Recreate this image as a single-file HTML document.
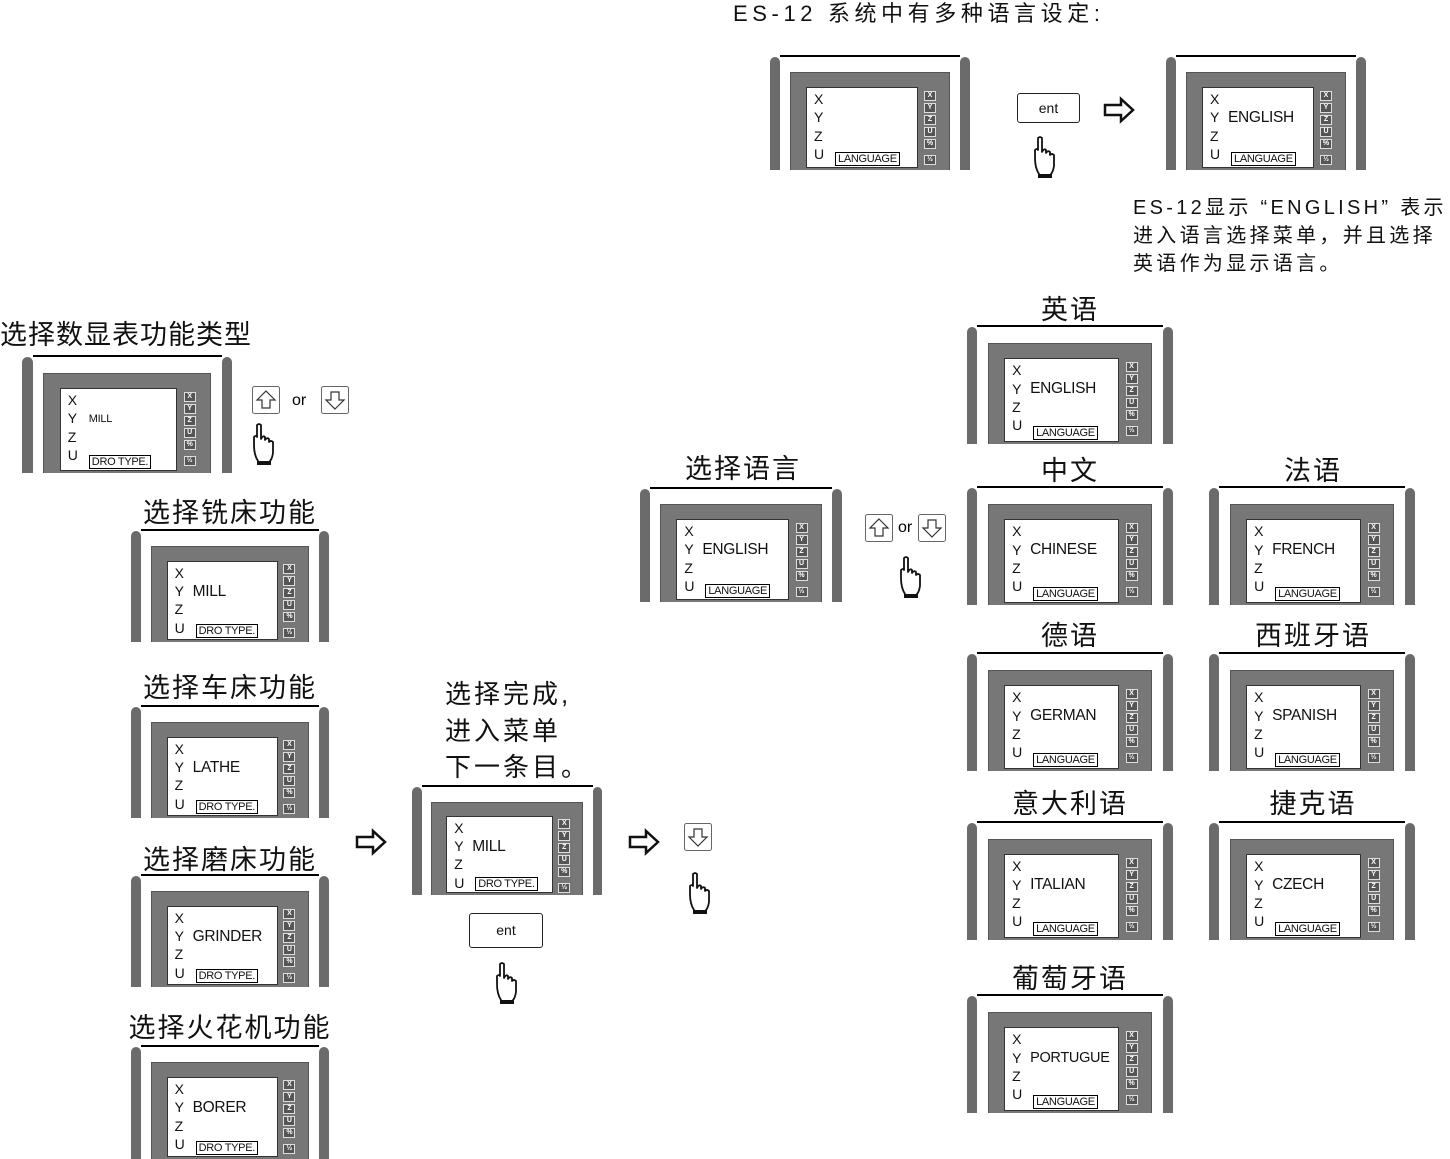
<!DOCTYPE html>
<html><head><meta charset="utf-8">
<style>
body{margin:0;width:1450px;height:1159px;background:#fff;position:relative;overflow:hidden;font-family:"Liberation Sans","Noto Sans CJK SC",sans-serif;color:#111}
.a{position:absolute}
.d{position:absolute}
.d .tl{position:absolute;left:5%;right:5%;top:0;height:2px;background:#000}
.d .bl,.d .br{position:absolute;top:2px;bottom:0;width:5%;background:#6b6b6b;border-radius:6px 6px 0 0}
.d .bl{left:0}.d .br{right:0}
.d .pn{position:absolute;left:10%;right:10%;top:15%;bottom:0;background:#777;border:1px solid #555;border-bottom:none}
.d .sc{position:absolute;left:18%;width:55%;top:28%;bottom:2px;background:#fff;border:1px solid #333;overflow:hidden}
.d .k{position:absolute;left:77%;width:12px;top:31%;bottom:2px}
.d .k div{height:8px;margin-bottom:2px;border:1px solid #ddd;background:#555;color:#fff;font-size:7px;line-height:8px;text-align:center;font-weight:bold}
.d .k div.g{margin-top:6px}
.ax{position:absolute;left:7px;top:2px;font-size:14px;line-height:18.3px}
.w{position:absolute;left:25px;top:20px;font-size:15.5px;line-height:20px;letter-spacing:-0.3px;white-space:nowrap}
.lb{position:absolute;bottom:1px;left:28px;border:1px solid #000;font-size:11px;padding:0 2px;line-height:12px;background:#fff;letter-spacing:-0.3px}
.h{position:absolute;font-size:27px;transform:translateX(-50%);white-space:nowrap;letter-spacing:2px;line-height:30px}
.btn{position:absolute;border:1.5px solid #222;border-radius:3px;font-size:14px;text-align:center}
</style></head><body>

<div class="a" style="left:733px;top:0px;font-size:22px;letter-spacing:4.6px;line-height:28px;white-space:nowrap">ES-12 系统中有多种语言设定:</div>

<div class="d" style="left:770px;top:55px;width:200px;height:115px"><div class="tl"></div><div class="bl"></div><div class="br"></div><div class="pn"></div><div class="sc"><div class="ax">X<br>Y<br>Z<br>U</div><div class="lb">LANGUAGE</div></div><div class="k"><div>X</div><div>Y</div><div>Z</div><div>U</div><div>%</div><div class="g">½</div></div></div>

<div class="d" style="left:1166px;top:55px;width:200px;height:115px"><div class="tl"></div><div class="bl"></div><div class="br"></div><div class="pn"></div><div class="sc"><div class="ax">X<br>Y<br>Z<br>U</div><div class="w">ENGLISH</div><div class="lb">LANGUAGE</div></div><div class="k"><div>X</div><div>Y</div><div>Z</div><div>U</div><div>%</div><div class="g">½</div></div></div>

<div class="d" style="left:22px;top:355px;width:210px;height:118px"><div class="tl"></div><div class="bl"></div><div class="br"></div><div class="pn"></div><div class="sc"><div class="ax">X<br>Y<br>Z<br>U</div><div class="w" style="font-size:11px;left:28px">MILL</div><div class="lb">DRO TYPE.</div></div><div class="k"><div>X</div><div>Y</div><div>Z</div><div>U</div><div>%</div><div class="g">½</div></div></div>

<div class="d" style="left:131px;top:529px;width:198px;height:113px"><div class="tl"></div><div class="bl"></div><div class="br"></div><div class="pn"></div><div class="sc"><div class="ax">X<br>Y<br>Z<br>U</div><div class="w">MILL</div><div class="lb">DRO TYPE.</div></div><div class="k"><div>X</div><div>Y</div><div>Z</div><div>U</div><div>%</div><div class="g">½</div></div></div>

<div class="d" style="left:131px;top:705px;width:198px;height:113px"><div class="tl"></div><div class="bl"></div><div class="br"></div><div class="pn"></div><div class="sc"><div class="ax">X<br>Y<br>Z<br>U</div><div class="w">LATHE</div><div class="lb">DRO TYPE.</div></div><div class="k"><div>X</div><div>Y</div><div>Z</div><div>U</div><div>%</div><div class="g">½</div></div></div>

<div class="d" style="left:131px;top:874px;width:198px;height:113px"><div class="tl"></div><div class="bl"></div><div class="br"></div><div class="pn"></div><div class="sc"><div class="ax">X<br>Y<br>Z<br>U</div><div class="w">GRINDER</div><div class="lb">DRO TYPE.</div></div><div class="k"><div>X</div><div>Y</div><div>Z</div><div>U</div><div>%</div><div class="g">½</div></div></div>

<div class="d" style="left:131px;top:1045px;width:198px;height:114px"><div class="tl"></div><div class="bl"></div><div class="br"></div><div class="pn"></div><div class="sc"><div class="ax">X<br>Y<br>Z<br>U</div><div class="w">BORER</div><div class="lb">DRO TYPE.</div></div><div class="k"><div>X</div><div>Y</div><div>Z</div><div>U</div><div>%</div><div class="g">½</div></div></div>

<div class="d" style="left:412px;top:785px;width:190px;height:110px"><div class="tl"></div><div class="bl"></div><div class="br"></div><div class="pn"></div><div class="sc"><div class="ax">X<br>Y<br>Z<br>U</div><div class="w">MILL</div><div class="lb">DRO TYPE.</div></div><div class="k"><div>X</div><div>Y</div><div>Z</div><div>U</div><div>%</div><div class="g">½</div></div></div>

<div class="d" style="left:640px;top:487px;width:202px;height:115px"><div class="tl"></div><div class="bl"></div><div class="br"></div><div class="pn"></div><div class="sc"><div class="ax">X<br>Y<br>Z<br>U</div><div class="w">ENGLISH</div><div class="lb">LANGUAGE</div></div><div class="k"><div>X</div><div>Y</div><div>Z</div><div>U</div><div>%</div><div class="g">½</div></div></div>

<div class="d" style="left:967px;top:325px;width:206px;height:119px"><div class="tl"></div><div class="bl"></div><div class="br"></div><div class="pn"></div><div class="sc"><div class="ax">X<br>Y<br>Z<br>U</div><div class="w">ENGLISH</div><div class="lb">LANGUAGE</div></div><div class="k"><div>X</div><div>Y</div><div>Z</div><div>U</div><div>%</div><div class="g">½</div></div></div>

<div class="d" style="left:967px;top:486px;width:206px;height:119px"><div class="tl"></div><div class="bl"></div><div class="br"></div><div class="pn"></div><div class="sc"><div class="ax">X<br>Y<br>Z<br>U</div><div class="w">CHINESE</div><div class="lb">LANGUAGE</div></div><div class="k"><div>X</div><div>Y</div><div>Z</div><div>U</div><div>%</div><div class="g">½</div></div></div>

<div class="d" style="left:1209px;top:486px;width:206px;height:119px"><div class="tl"></div><div class="bl"></div><div class="br"></div><div class="pn"></div><div class="sc"><div class="ax">X<br>Y<br>Z<br>U</div><div class="w">FRENCH</div><div class="lb">LANGUAGE</div></div><div class="k"><div>X</div><div>Y</div><div>Z</div><div>U</div><div>%</div><div class="g">½</div></div></div>

<div class="d" style="left:967px;top:652px;width:206px;height:119px"><div class="tl"></div><div class="bl"></div><div class="br"></div><div class="pn"></div><div class="sc"><div class="ax">X<br>Y<br>Z<br>U</div><div class="w">GERMAN</div><div class="lb">LANGUAGE</div></div><div class="k"><div>X</div><div>Y</div><div>Z</div><div>U</div><div>%</div><div class="g">½</div></div></div>

<div class="d" style="left:1209px;top:652px;width:206px;height:119px"><div class="tl"></div><div class="bl"></div><div class="br"></div><div class="pn"></div><div class="sc"><div class="ax">X<br>Y<br>Z<br>U</div><div class="w">SPANISH</div><div class="lb">LANGUAGE</div></div><div class="k"><div>X</div><div>Y</div><div>Z</div><div>U</div><div>%</div><div class="g">½</div></div></div>

<div class="d" style="left:967px;top:821px;width:206px;height:119px"><div class="tl"></div><div class="bl"></div><div class="br"></div><div class="pn"></div><div class="sc"><div class="ax">X<br>Y<br>Z<br>U</div><div class="w">ITALIAN</div><div class="lb">LANGUAGE</div></div><div class="k"><div>X</div><div>Y</div><div>Z</div><div>U</div><div>%</div><div class="g">½</div></div></div>

<div class="d" style="left:1209px;top:821px;width:206px;height:119px"><div class="tl"></div><div class="bl"></div><div class="br"></div><div class="pn"></div><div class="sc"><div class="ax">X<br>Y<br>Z<br>U</div><div class="w">CZECH</div><div class="lb">LANGUAGE</div></div><div class="k"><div>X</div><div>Y</div><div>Z</div><div>U</div><div>%</div><div class="g">½</div></div></div>

<div class="d" style="left:967px;top:994px;width:206px;height:119px"><div class="tl"></div><div class="bl"></div><div class="br"></div><div class="pn"></div><div class="sc"><div class="ax">X<br>Y<br>Z<br>U</div><div class="w" style="font-size:14.5px">PORTUGUE</div><div class="lb">LANGUAGE</div></div><div class="k"><div>X</div><div>Y</div><div>Z</div><div>U</div><div>%</div><div class="g">½</div></div></div>

<div class="a" style="left:0;top:320px;font-size:27px;letter-spacing:1px;line-height:30px;white-space:nowrap">选择数显表功能类型</div>
<div class="h" style="left:230px;top:498px">选择铣床功能</div>
<div class="h" style="left:230px;top:673px">选择车床功能</div>
<div class="h" style="left:230px;top:845px">选择磨床功能</div>
<div class="h" style="left:230px;top:1013px">选择火花机功能</div>
<div class="h" style="left:743px;top:454px">选择语言</div>
<div class="h" style="left:1070px;top:295px">英语</div>
<div class="h" style="left:1070px;top:456px">中文</div>
<div class="h" style="left:1313px;top:456px">法语</div>
<div class="h" style="left:1070px;top:621px">德语</div>
<div class="h" style="left:1313px;top:621px">西班牙语</div>
<div class="h" style="left:1070px;top:789px">意大利语</div>
<div class="h" style="left:1313px;top:789px">捷克语</div>
<div class="h" style="left:1070px;top:964px">葡萄牙语</div>

<div class="a" style="left:445px;top:676px;font-size:26px;letter-spacing:3px;line-height:36.5px">选择完成,<br>进入菜单<br>下一条目。</div>
<div class="a" style="left:1133px;top:194px;font-size:20px;letter-spacing:3.3px;line-height:28px;white-space:nowrap">ES-12显示 “ENGLISH” 表示<br>进入语言选择菜单，并且选择<br>英语作为显示语言。</div>

<div class="btn" style="left:1017px;top:93px;width:61px;height:28px;line-height:28px">ent</div>
<div class="btn" style="left:469px;top:913px;width:72px;height:33px;line-height:33px">ent</div>

<svg class="a" style="left:0;top:0" width="1450" height="1159">
<defs>
<g id="up"><rect x="0.5" y="0.5" width="27" height="27" rx="2" fill="#fff" stroke="#666"/><path d="M14 5 L23 14 L18 14 L18 22 L10 22 L10 14 L5 14 Z" fill="none" stroke="#333" stroke-width="1.2"/></g>
<g id="dn"><rect x="0.5" y="0.5" width="27" height="27" rx="2" fill="#fff" stroke="#666"/><path d="M14 23 L23 14 L18 14 L18 6 L10 6 L10 14 L5 14 Z" fill="none" stroke="#333" stroke-width="1.2"/></g>
<g id="hand"><path d="M4 2 Q6 0 8 2 L8 16 Q10 12 12 14 L12 17 Q14 14 16 16 L16 19 Q18 17 20 19 L20 30 Q19 36 17 38 L17 41 L5 41 L5 38 Q1 32 1 22 L1 14 Q3 12 4 14 Z" fill="#fff" stroke="#111" stroke-width="1.8" stroke-linejoin="round"/><rect x="4" y="38" width="14" height="4" fill="#111"/></g>
<g id="arr"><path d="M1 7 L17 7 L17 1 L29 12 L17 23 L17 17 L1 17 Z" fill="#fff" stroke="#111" stroke-width="2.5" stroke-linejoin="miter"/></g>
</defs>
<use href="#up" x="252" y="386"/><use href="#dn" x="321" y="386"/>
<use href="#up" x="865" y="514"/><use href="#dn" x="918" y="514"/>
<use href="#dn" x="684" y="823"/>
<use href="#hand" x="253" y="423"/>
<use href="#hand" x="1034" y="136"/>
<use href="#hand" x="900" y="556"/>
<use href="#hand" x="496" y="962"/>
<use href="#hand" x="689" y="872"/>
<use href="#arr" x="1104" y="98"/>
<use href="#arr" x="356" y="830"/>
<use href="#arr" x="629" y="830"/>
<text x="292" y="405" font-size="16" font-family="Liberation Sans">or</text>
<text x="898" y="532" font-size="16" font-family="Liberation Sans">or</text>
</svg>
</body></html>
